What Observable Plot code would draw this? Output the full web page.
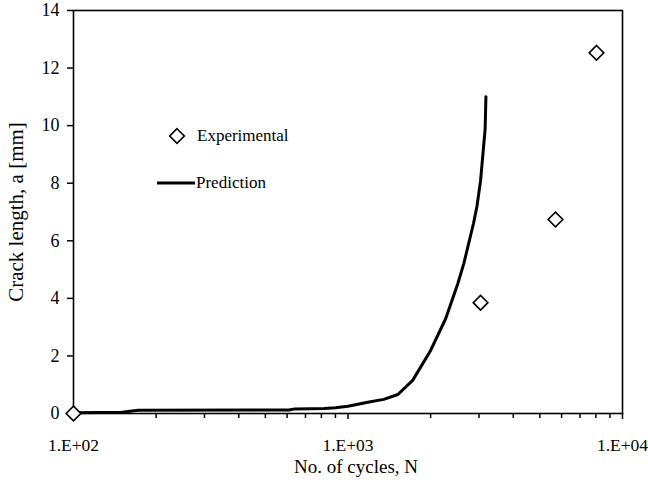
<!DOCTYPE html>
<html>
<head>
<meta charset="utf-8">
<script src="https://cdn.jsdelivr.net/npm/d3@7"></script>
<script src="https://cdn.jsdelivr.net/npm/@observablehq/plot@0.6"></script>
<style>
  html, body { margin: 0; padding: 0; background: #fff; }
  #chart { position: relative; width: 648px; height: 482px; font-family: "Liberation Serif", "Times New Roman", serif; }
  .legend { position: absolute; left: 0; top: 0; font-size: 17px; color: #000; }
  .legend .row { position: absolute; display: flex; align-items: center; white-space: nowrap; }
  .legend svg { display: block; }
</style>
</head>
<body>
<div id="chart"></div>
<script>
// Experimental crack length measurements
const expCycles = [100, 3040, 5700, 8040];
const expLength = [0, 3.85, 6.74, 12.53];

// Predicted crack growth curve
const predCycles = [100, 150, 172, 610, 640, 820, 900, 1000, 1180, 1350, 1520, 1720, 2000, 2270, 2510, 2640, 2730, 2865, 2950, 3040, 3116, 3160, 3180];
const predLength = [0.03, 0.04, 0.11, 0.12, 0.16, 0.17, 0.2, 0.25, 0.39, 0.49, 0.66, 1.15, 2.19, 3.3, 4.5, 5.2, 5.77, 6.6, 7.2, 8.08, 9.24, 9.9, 11.0];

// Axis ticks
const xMajorTicks = [100, 1000, 10000];
const xTickLabels = ["1.E+02", "1.E+03", "1.E+04"];
const xMinorTicks = [200, 300, 400, 500, 600, 700, 800, 900, 2000, 3000, 4000, 5000, 6000, 7000, 8000, 9000];
const yTicks = [0, 2, 4, 6, 8, 10, 12, 14];

const experimental = expCycles.map((n, i) => ({n, a: expLength[i]}));
const prediction = predCycles.map((n, i) => ({n, a: predLength[i]}));

const plot = Plot.plot({
  width: 648,
  height: 482,
  marginLeft: 73,
  marginRight: 26,
  marginTop: 10,
  marginBottom: 69,
  style: {fontFamily: "Liberation Serif, Times New Roman, serif", color: "#000", background: "#fff", overflow: "visible"},
  x: {type: "log", domain: [100, 10000]},
  y: {domain: [0, 14]},
  marks: [
    Plot.axisY({ticks: yTicks, tickSize: 6, tickPadding: 8, fontSize: 18, label: null, strokeWidth: 1.5}),
    Plot.axisX({ticks: xMajorTicks, tickFormat: (d) => xTickLabels[xMajorTicks.indexOf(d)], tickSize: 6, tickPadding: 19, fontSize: 17.5, label: null, strokeWidth: 1.5}),
    Plot.axisX({ticks: xMinorTicks, tickFormat: () => "", tickSize: 5, label: null, strokeWidth: 1.5}),
    Plot.frame({stroke: "#000", strokeWidth: 1.6}),
    Plot.line(prediction, {x: "n", y: "a", stroke: "#000", strokeWidth: 3, strokeLinejoin: "round"}),
    Plot.dot(experimental, {x: "n", y: "a", symbol: "diamond2", r: 6.6, stroke: "#000", strokeWidth: 1.6, fill: "#fff"}),
    Plot.text(["No. of cycles, N"], {frameAnchor: "bottom", dx: 8, dy: 53, fontSize: 19, fill: "#000", textAnchor: "middle", lineAnchor: "middle"}),
    Plot.text(["Crack length, a [mm]"], {frameAnchor: "left", dx: -57, rotate: -90, fontSize: 21, fill: "#000", textAnchor: "middle", lineAnchor: "middle"})
  ]
});

const chart = document.getElementById("chart");
chart.appendChild(plot);

// Legend drawn inside the plot area
const legend = document.createElement("div");
legend.className = "legend";
legend.innerHTML = `
  <div class="row" style="left:167px; top:125px; height:22px;">
    <svg width="20" height="20" viewBox="-10 -10 20 20" style="margin-right:10px">
      <path d="M0,-7.3L7.3,0L0,7.3L-7.3,0Z" fill="#fff" stroke="#000" stroke-width="1.6"/>
    </svg>
    <span>Experimental</span>
  </div>
  <div class="row" style="left:157px; top:172px; height:22px;">
    <svg width="38" height="6" style="margin-right:1px">
      <line x1="0" y1="3" x2="38" y2="3" stroke="#000" stroke-width="3"/>
    </svg>
    <span>Prediction</span>
  </div>`;
chart.appendChild(legend);
</script>
</body>
</html>
